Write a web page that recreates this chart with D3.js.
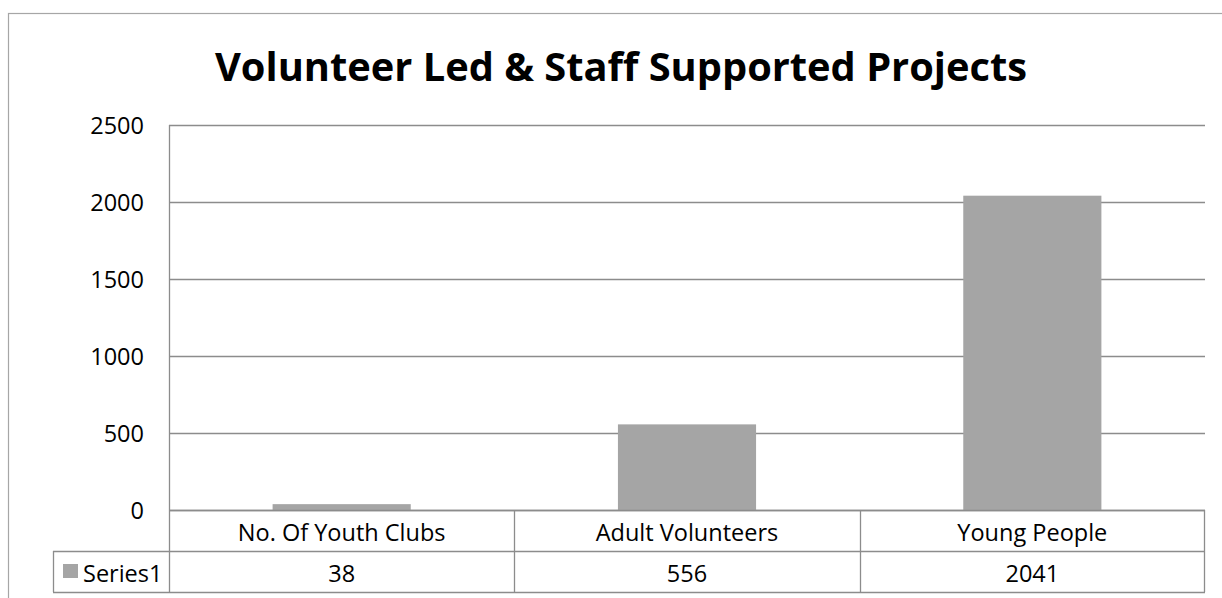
<html>
    <head>
        <script src="https://cdnjs.cloudflare.com/ajax/libs/d3/7.8.5/d3.min.js"></script>
        <style>
            body { margin: 0; background: white; }
            text { font-family: "Open Sans", "DejaVu Sans", sans-serif; fill: black; }
        </style>
    </head>
    <body>
        <svg width="1222" height="598"></svg>
        <script>
            let categories = ["No. Of Youth Clubs", "Adult Volunteers", "Young People"];
            let values = [38, 556, 2041];
            let seriesName = "Series1";
            let yTicks = [0, 500, 1000, 1500, 2000, 2500];
            let title = "Volunteer Led & Staff Supported Projects";

            var svg = d3.select("svg");
            var lineColor = "#8c8c8c";
            var barColor = "#a5a5a5";
            var labelSize = "23.5px";

            var plotLeft = 169, plotRight = 1205, plotTop = 125, plotBottom = 510;
            var row1 = 551, row2 = 592, legendLeft = 53;

            // outer chart frame (runs off the page on right and bottom)
            svg.append("rect")
                .attr("x", 8.5).attr("y", 13.5)
                .attr("width", 1240).attr("height", 620)
                .style("fill", "none").style("stroke", "#a6a6a6").style("stroke-width", 1.2);

            svg.append("text")
                .attr("x", 621).attr("y", 81)
                .attr("text-anchor", "middle")
                .attr("textLength", 812)
                .attr("lengthAdjust", "spacingAndGlyphs")
                .style("font-size", "40px").style("font-weight", "bold")
                .text(title);

            var x = d3.scaleBand().domain(categories).range([plotLeft, plotRight]).paddingInner(0).paddingOuter(0);
            var y = d3.scaleLinear().domain([0, 2500]).range([plotBottom, plotTop]);

            // gridlines
            svg.append("g")
                .selectAll("line")
                .data(yTicks)
                .enter()
                .append("line")
                .attr("x1", plotLeft).attr("x2", plotRight)
                .attr("y1", d => Math.round(y(d)) + 0.5).attr("y2", d => Math.round(y(d)) + 0.5)
                .style("stroke", lineColor).style("stroke-width", 1.3);

            // y tick labels
            svg.append("g")
                .selectAll("text")
                .data(yTicks)
                .enter()
                .append("text")
                .attr("x", 144).attr("y", d => y(d))
                .attr("text-anchor", "end")
                .attr("dominant-baseline", "central")
                .style("font-size", labelSize)
                .text(d => d);

            // bars
            var bw = x.bandwidth() * 0.4;
            svg.append("g")
                .selectAll("rect")
                .data(values)
                .enter()
                .append("rect")
                .attr("x", (d, i) => x(categories[i]) + x.bandwidth() / 2 - bw / 2)
                .attr("width", bw)
                .attr("y", d => y(d))
                .attr("height", d => y(0) - y(d))
                .style("fill", barColor);

            // data table
            var table = svg.append("g").style("stroke", lineColor).style("stroke-width", 1.3);
            table.append("line").attr("x1", plotLeft + 0.5).attr("x2", plotLeft + 0.5).attr("y1", plotTop).attr("y2", row2);
            table.append("line").attr("x1", plotLeft).attr("x2", plotRight).attr("y1", plotBottom + 0.5).attr("y2", plotBottom + 0.5);
            table.append("line").attr("x1", legendLeft).attr("x2", plotRight).attr("y1", row1 + 0.5).attr("y2", row1 + 0.5);
            table.append("line").attr("x1", legendLeft).attr("x2", plotRight).attr("y1", row2 + 0.5).attr("y2", row2 + 0.5);
            table.append("line").attr("x1", legendLeft + 0.5).attr("x2", legendLeft + 0.5).attr("y1", row1).attr("y2", row2);
            table.append("line").attr("x1", plotRight - 0.5).attr("x2", plotRight - 0.5).attr("y1", plotBottom).attr("y2", row2);
            table.selectAll("line.sep")
                .data(categories.slice(1))
                .enter()
                .append("line")
                .attr("class", "sep")
                .attr("x1", d => Math.round(x(d)) + 0.5).attr("x2", d => Math.round(x(d)) + 0.5)
                .attr("y1", plotBottom).attr("y2", row2);

            svg.append("g")
                .selectAll("text")
                .data(categories)
                .enter()
                .append("text")
                .attr("x", d => x(d) + x.bandwidth() / 2)
                .attr("y", (plotBottom + row1) / 2 + 1)
                .attr("text-anchor", "middle")
                .attr("dominant-baseline", "central")
                .style("font-size", labelSize)
                .text(d => d);

            svg.append("g")
                .selectAll("text")
                .data(values)
                .enter()
                .append("text")
                .attr("x", (d, i) => x(categories[i]) + x.bandwidth() / 2)
                .attr("y", (row1 + row2) / 2 + 1)
                .attr("text-anchor", "middle")
                .attr("dominant-baseline", "central")
                .style("font-size", labelSize)
                .text(d => d);

            // legend key
            svg.append("rect")
                .attr("x", 63).attr("y", 564).attr("width", 15).attr("height", 14)
                .style("fill", barColor);
            svg.append("text")
                .attr("x", 83).attr("y", (row1 + row2) / 2 + 1)
                .attr("dominant-baseline", "central")
                .style("font-size", labelSize)
                .text(seriesName);
        </script>
    </body>
</html>
